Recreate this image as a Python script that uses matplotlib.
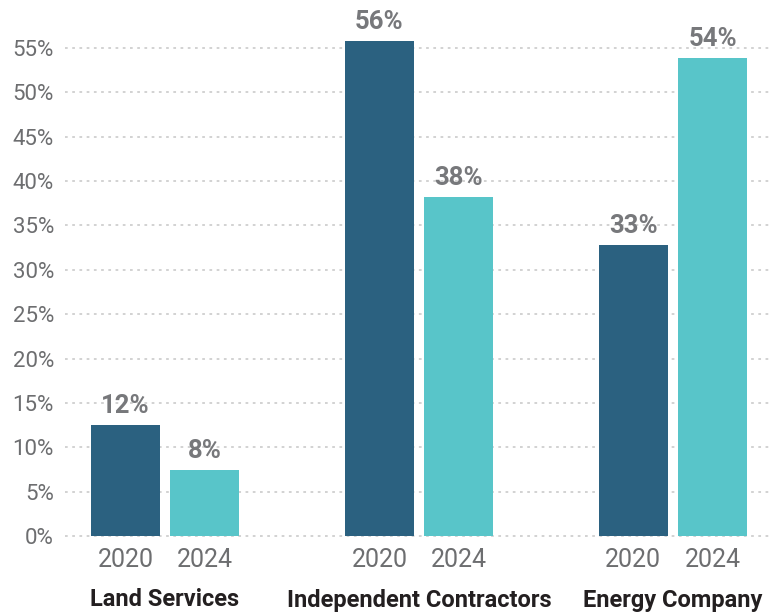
import numpy as np
import matplotlib.pyplot as plt
from matplotlib import font_manager
from matplotlib.transforms import blended_transform_factory

categories = ["Land Services", "Independent Contractors", "Energy Company"]
years = ["2020", "2024"]
values_2020 = [12.5, 55.8, 32.8]
values_2024 = [7.4, 38.2, 53.9]
labels_2020 = ["12%", "56%", "33%"]
labels_2024 = ["8%", "38%", "54%"]
yticks = list(range(0, 60, 5))

names = {f.name for f in font_manager.fontManager.ttflist}
fam = "Liberation Sans Narrow" if "Liberation Sans Narrow" in names else "Roboto"
plt.rcParams['font.family'] = [fam, 'DejaVu Sans']

dark = "#2b6180"
light = "#58c5c9"
gray = "#77787b"

fig = plt.figure(figsize=(7.71, 6.13), dpi=100)
ax = fig.add_axes([65 / 771, 77 / 613, 1 - 65 / 771, 536 / 613])

x = np.arange(len(categories))
w = 0.272
off = 0.156
ax.bar(x - off, values_2020, w, color=dark, zorder=3)
ax.bar(x + off, values_2024, w, color=light, zorder=3)

for xi, v, lab in zip(x - off, values_2020, labels_2020):
    ax.text(xi, v + 0.8, lab, ha='center', va='bottom', fontsize=18.5,
            fontweight='semibold', color=gray)
for xi, v, lab in zip(x + off, values_2024, labels_2024):
    ax.text(xi, v + 0.8, lab, ha='center', va='bottom', fontsize=18.5,
            fontweight='semibold', color=gray)

ax.set_xlim(-0.394, 2.386)
ax.set_ylim(0, 60.4)
ax.set_yticks(yticks)
ax.set_yticklabels([f"{t}%" for t in yticks])
ax.tick_params(axis='y', length=0, pad=8, labelsize=16, labelcolor="#6d6e70")
ax.set_xticks([])
for y in yticks:
    ax.axhline(y, color="#cfcfcf", lw=1.3, ls=(0, (1.5, 2.5)), zorder=1, clip_on=False)
for s in ax.spines.values():
    s.set_visible(False)

tr = blended_transform_factory(ax.transData, fig.transFigure)
for xi in x:
    ax.text(xi - off, 1 - 560 / 613, years[0], transform=tr, ha='center', va='center',
            fontsize=18, color="#6d6e70")
    ax.text(xi + off, 1 - 560 / 613, years[1], transform=tr, ha='center', va='center',
            fontsize=18, color="#6d6e70")
for xi, c in zip(x, categories):
    ax.text(xi, 1 - 600 / 613, c, transform=tr, ha='center', va='center',
            fontsize=17, fontweight='bold', color="#231f20")

fig.savefig("out.png", dpi=100)
